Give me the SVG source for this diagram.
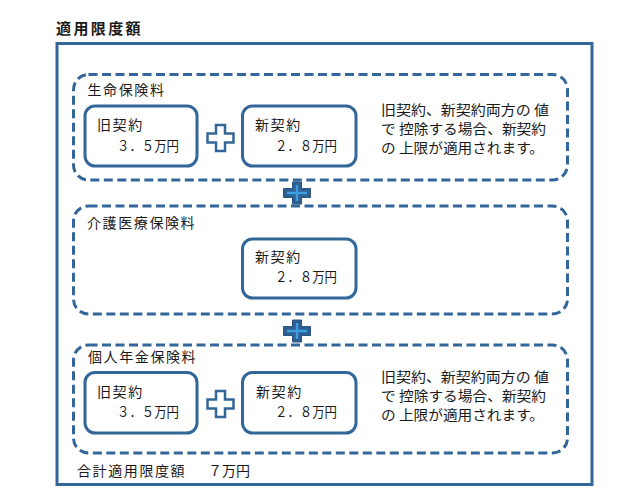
<svg xmlns="http://www.w3.org/2000/svg" width="641" height="491" viewBox="0 0 641 491">
<style>
text{font-family:"Noto Sans CJK JP","Noto Sans",sans-serif;fill:#1a1a1a}
.title{font-size:15px;font-weight:bold;letter-spacing:2.4px}
.lbl{font-size:14px;letter-spacing:1.6px}
.amt{font-size:14px}
.note{font-size:14px}
.outer{fill:#fff;stroke:#336699;stroke-width:3}
.group{fill:none;stroke:#336699;stroke-width:3;stroke-dasharray:9 4.5}
.box{fill:#fff;stroke:#336699;stroke-width:3}
.plusO{fill:#fff;stroke:#336699;stroke-width:2.5;stroke-linejoin:miter}
.plusF{fill:#2d5f92;stroke:#2a5683;stroke-width:1}
.plusI{fill:none;stroke:#3a9ee0;stroke-width:2.5}
</style>
<defs>
<path id="crossO" d="M-4.5,-13 H4.5 V-4.5 H13 V4.5 H4.5 V13 H-4.5 V4.5 H-13 V-4.5 H-4.5 Z"/>
<path id="crossF" d="M-4.5,-11 H4.5 V-4.5 H13.5 V4.5 H4.5 V11 H-4.5 V4.5 H-13.5 V-4.5 H-4.5 Z"/>
</defs>
<rect width="641" height="491" fill="#fff"/>
<text class="title" x="56" y="34">適用限度額</text>
<rect class="outer" x="57" y="43.5" width="535" height="441"/>

<g id="group-life">
<rect class="group" x="73.5" y="74.5" width="494" height="105.5" rx="15"/>
<text class="lbl" x="87.5" y="95">生命保険料</text>
</g>
<g id="life-old">
<rect class="box" x="85" y="106" width="112" height="60" rx="10"/>
<text class="lbl" x="97" y="130">旧契約</text>
<text class="amt" x="117" y="151" textLength="62" lengthAdjust="spacingAndGlyphs">３．５万円</text>
</g>
<g id="life-new">
<rect class="box" x="242.5" y="106" width="113.5" height="60" rx="10"/>
<text class="lbl" x="255" y="130">新契約</text>
<text class="amt" x="275" y="151" textLength="62" lengthAdjust="spacingAndGlyphs">２．８万円</text>
</g>
<g id="life-note">
<text class="note" x="381" y="115" textLength="168" lengthAdjust="spacingAndGlyphs">旧契約、新契約両方の 値</text>
<text class="note" x="381" y="134" textLength="165" lengthAdjust="spacingAndGlyphs">で 控除する場合、新契約</text>
<text class="note" x="381" y="153" textLength="163" lengthAdjust="spacingAndGlyphs">の 上限が適用されます。</text>
</g>

<g id="group-care">
<rect class="group" x="73.5" y="206" width="494" height="108" rx="15"/>
<text class="lbl" x="87" y="228">介護医療保険料</text>
</g>
<g id="care-new">
<rect class="box" x="242.5" y="239" width="113.5" height="59" rx="10"/>
<text class="lbl" x="255" y="262">新契約</text>
<text class="amt" x="275" y="282" textLength="62" lengthAdjust="spacingAndGlyphs">２．８万円</text>
</g>

<g id="group-pension">
<rect class="group" x="73.5" y="345" width="494" height="108" rx="15"/>
<text class="lbl" x="88" y="362">個人年金保険料</text>
</g>
<g id="pension-old">
<rect class="box" x="85" y="372.5" width="112" height="60.5" rx="10"/>
<text class="lbl" x="97" y="397">旧契約</text>
<text class="amt" x="117" y="417" textLength="62" lengthAdjust="spacingAndGlyphs">３．５万円</text>
</g>
<g id="pension-new">
<rect class="box" x="242.5" y="372.5" width="113.5" height="60.5" rx="10"/>
<text class="lbl" x="256" y="397">新契約</text>
<text class="amt" x="275" y="417" textLength="62" lengthAdjust="spacingAndGlyphs">２．８万円</text>
</g>
<g id="pension-note">
<text class="note" x="381" y="382" textLength="168" lengthAdjust="spacingAndGlyphs">旧契約、新契約両方の 値</text>
<text class="note" x="381" y="401" textLength="165" lengthAdjust="spacingAndGlyphs">で 控除する場合、新契約</text>
<text class="note" x="381" y="420" textLength="163" lengthAdjust="spacingAndGlyphs">の 上限が適用されます。</text>
</g>

<g id="connectors">
<use href="#crossO" class="plusO" transform="translate(220.5,138)"/>
<use href="#crossO" class="plusO" transform="translate(220.5,404)"/>
<g transform="translate(297,193)">
<use href="#crossF" class="plusF"/>
<path class="plusI" d="M-10,0 H10 M0,-8 V8"/>
</g>
<g transform="translate(297,331)">
<use href="#crossF" class="plusF"/>
<path class="plusI" d="M-10,0 H10 M0,-8 V8"/>
</g>
</g>

<g id="total">
<text class="lbl" x="77" y="476">合計適用限度額<tspan x="208" letter-spacing="0" font-size="14">７万円</tspan></text>
</g>
</svg>
